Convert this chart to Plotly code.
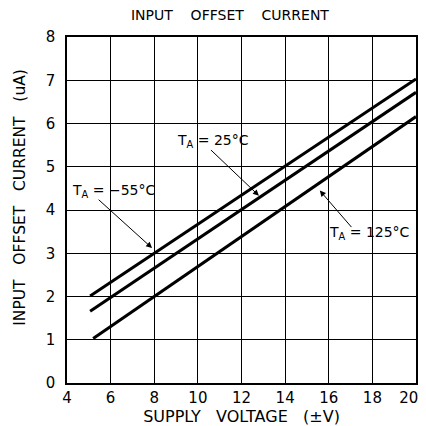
import plotly.graph_objects as go

# Data
volt_m55 = [5.06, 20.0]
curr_m55 = [2.01, 7.03]
volt_25 = [5.06, 20.0]
curr_25 = [1.66, 6.72]
volt_125 = [5.2, 20.0]
curr_125 = [1.03, 6.16]

x_ticks = [4, 6, 8, 10, 12, 14, 16, 18, 20]
x_tick_labels = ["4", "6", "8", "10", "12", "14", "16", "18", "20"]
y_ticks = [0, 1, 2, 3, 4, 5, 6, 7, 8]

FONT = "DejaVu Sans"
NB = "\u00a0"

fig = go.Figure()
for xs, ys in [(volt_m55, curr_m55), (volt_25, curr_25), (volt_125, curr_125)]:
    fig.add_trace(go.Scatter(x=xs, y=ys, mode="lines",
                             line=dict(color="black", width=3),
                             showlegend=False, hoverinfo="skip"))

# labels (text) and arrows
labels = [
    ("T<sub>A</sub> = −55°C", 6.11, 4.45, 5.38, 4.27, 7.9, 3.12),
    ("T<sub>A</sub> = 25°C", 10.71, 5.60, 10.53, 5.42, 12.8, 4.33),
    ("T<sub>A</sub> = 125°C", 17.89, 3.46, 17.1, 3.57, 15.59, 4.45),
]
for text, lx, ly, tx, ty, hx, hy in labels:
    fig.add_annotation(x=lx, y=ly, text=text, showarrow=False,
                       font=dict(family=FONT, size=14, color="black"))
    fig.add_annotation(x=hx, y=hy, ax=tx, ay=ty, axref="x", ayref="y",
                       xref="x", yref="y", text="", showarrow=True,
                       arrowhead=2, arrowsize=1.2, arrowwidth=1,
                       arrowcolor="black")

# y-axis title as a rotated annotation (lets it sit like the reference)
fig.add_annotation(x=-0.135, y=0.538, xref="paper", yref="paper",
                   text="INPUT   OFFSET   CURRENT   (uA)", textangle=-90,
                   showarrow=False, xanchor="center", yanchor="middle",
                   font=dict(family=FONT, size=15.5, color="black"))

# keep the last x label inside the visible page
tick_text = x_tick_labels[:-1] + [x_tick_labels[-1] + NB * 3]

fig.update_layout(
    width=418, height=418,
    margin=dict(l=59, r=10, t=29, b=43, autoexpand=False),
    paper_bgcolor="white", plot_bgcolor="white",
    font=dict(family=FONT, color="black"),
    title=dict(text="INPUT    OFFSET    CURRENT", x=0.531, xanchor="center",
               y=0.983, yanchor="middle",
               font=dict(family=FONT, size=14, color="black")),
)
fig.update_xaxes(range=[4, 20], tickvals=x_ticks, ticktext=tick_text,
                 showgrid=True, ticklabeloverflow="allow",
                 gridcolor="black", gridwidth=1, showline=True,
                 linecolor="black", linewidth=1.5, mirror=True,
                 ticks="", zeroline=False, automargin=False,
                 tickfont=dict(family=FONT, size=15),
                 title=dict(text="SUPPLY   VOLTAGE   (±V)", standoff=0,
                            font=dict(family=FONT, size=16)))
fig.update_yaxes(range=[0, 8], tickvals=y_ticks, showgrid=True,
                 gridcolor="black", gridwidth=1, showline=True,
                 linecolor="black", linewidth=1.5, mirror=True,
                 ticks="", zeroline=False, automargin=False,
                 ticklabelstandoff=7,
                 tickfont=dict(family=FONT, size=15))

fig.write_html("out.html")
